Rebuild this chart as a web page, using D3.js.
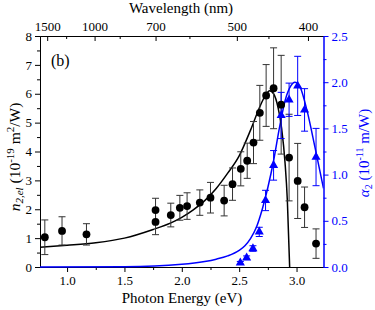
<!DOCTYPE html>
<html>
<head>
<meta charset="utf-8">
<script src="https://cdn.jsdelivr.net/npm/d3@7"></script>
<style>
  body { margin: 0; background: #fff; }
  svg { display: block; }
  svg text { font-family: "Liberation Serif", "Times New Roman", "DejaVu Serif", serif; }
</style>
</head>
<body>
<svg id="chart" width="375" height="310"></svg>
<script>
// n2,el measured points (black circles), 10^-19 m2/W
const energyN = [0.806, 0.956, 1.169, 1.771, 1.771, 1.904, 1.983, 2.046, 2.157, 2.25, 2.369, 2.442,
  2.514, 2.57, 2.625, 2.68, 2.735, 2.80, 2.866, 2.935, 3.01, 3.07, 3.17];
const n2 = [1.03, 1.25, 1.13, 1.56, 1.97, 1.80, 2.05, 2.11, 2.23, 2.40, 2.30, 2.87,
  3.40, 3.68, 4.31, 5.34, 5.94, 6.19, 5.62, 3.79, 2.98, 2.07, 0.81];
const n2Err = [0.60, 0.49, 0.37, 0.44, 0.41, 0.41, 0.43, 0.46, 0.44, 0.53, 0.53, 0.56,
  0.59, 0.61, 0.73, 0.95, 1.07, 1.40, 1.71, 1.50, 1.30, 0.70, 0.51];

// alpha2 measured points (blue triangles), 10^-11 m/W
const energyA = [2.51, 2.565, 2.62, 2.675, 2.73, 2.80, 2.866, 2.935, 3.01, 3.07, 3.17];
const alpha2 = [0.045, 0.10, 0.20, 0.38, 0.72, 1.10, 1.64, 1.81, 1.96, 1.70, 1.19];
const alpha2Err = [0.015, 0.02, 0.03, 0.05, 0.11, 0.16, 0.25, 0.18, 0.32, 0.23, 0.31];

// model curves
const fitNE = [0.764, 1.0, 1.25, 1.5, 1.75, 1.9, 2.0, 2.1, 2.2, 2.3, 2.4, 2.5, 2.6, 2.68, 2.73,
  2.765, 2.8, 2.84, 2.87, 2.9, 2.92, 2.94];
const fitN = [0.68, 0.75, 0.84, 1.0, 1.3, 1.52, 1.72, 1.98, 2.3, 2.72, 3.25, 3.85, 4.75, 5.55, 5.95,
  6.1, 6.0, 5.5, 4.8, 3.6, 2.3, 0];
const fitAE = [0.764, 1.5, 2.0, 2.2, 2.3, 2.4, 2.5, 2.55, 2.6, 2.65, 2.7, 2.75, 2.8, 2.85, 2.9,
  2.95, 2.985, 3.03, 3.09, 3.16, 3.235];
const fitA = [0.0, 0.004, 0.03, 0.06, 0.085, 0.12, 0.18, 0.23, 0.31, 0.43, 0.62, 0.86, 1.15, 1.5, 1.8,
  1.96, 2.0, 1.95, 1.7, 1.3, 0.85];

// tick values
const energyTicks = [1.0, 1.5, 2.0, 2.5, 3.0];
const energyMinor = [1.25, 1.75, 2.25, 2.75];
const wavelengthTicks = [1500, 1000, 700, 500, 400];
const wavelengthMinor = [1250, 850, 600, 450];
const nTicks = [0, 1, 2, 3, 4, 5, 6, 7, 8];
const nMinor = [0.5, 1.5, 2.5, 3.5, 4.5, 5.5, 6.5, 7.5];
const aTicks = [0, 0.5, 1.0, 1.5, 2.0, 2.5];
const aMinor = [0.25, 0.75, 1.25, 1.75, 2.25];

const BLUE = '#0000ff';
const SERIF = '"Liberation Serif", "Times New Roman", "DejaVu Serif", serif';
const plotL = 40, plotR = 323.5, plotT = 36, plotB = 267;

const svg = d3.select('#chart');
svg.append('rect').attr('width', 375).attr('height', 310).attr('fill', '#fff');

const x = d3.scaleLinear().domain([0.764, 3.235]).range([plotL, plotR]);
const yL = d3.scaleLinear().domain([0, 8]).range([plotB, plotT]);
const yR = d3.scaleLinear().domain([0, 2.5]).range([plotB, plotT]);

svg.append('clipPath').attr('id', 'plot-clip')
  .append('rect').attr('x', plotL).attr('y', plotT - 2)
  .attr('width', plotR - plotL).attr('height', plotB - plotT + 4);

function styleAxis(g, color) {
  g.attr('font-family', SERIF).attr('font-size', 13);
  g.selectAll('line, path').attr('stroke', color).attr('stroke-width', 1);
  g.selectAll('text').attr('fill', color);
}

// bottom axis
svg.append('g').attr('transform', `translate(0,${plotB})`)
  .call(d3.axisBottom(x).tickValues(energyTicks).tickFormat(d3.format('.1f'))
    .tickSize(5).tickSizeOuter(0).tickPadding(4))
  .call(g => styleAxis(g, '#000'));
svg.append('g').attr('transform', `translate(0,${plotB})`)
  .call(d3.axisBottom(x).tickValues(energyMinor).tickFormat('').tickSize(3).tickSizeOuter(0))
  .call(g => styleAxis(g, '#000'));

// top axis (wavelength, nm)
const toEV = nm => 1239.84 / nm;
svg.append('g').attr('transform', `translate(0,${plotT})`)
  .call(d3.axisTop(x).tickValues(wavelengthTicks.map(toEV))
    .tickFormat((d, i) => wavelengthTicks[i]).tickSize(-5).tickSizeOuter(0).tickPadding(5))
  .call(g => styleAxis(g, '#000'));
svg.append('g').attr('transform', `translate(0,${plotT})`)
  .call(d3.axisTop(x).tickValues(wavelengthMinor.map(toEV)).tickFormat('')
    .tickSize(-3).tickSizeOuter(0))
  .call(g => styleAxis(g, '#000'));

// left axis
svg.append('g').attr('transform', `translate(${plotL},0)`)
  .call(d3.axisLeft(yL).tickValues(nTicks).tickFormat(d3.format('d'))
    .tickSize(5).tickSizeOuter(0).tickPadding(3))
  .call(g => styleAxis(g, '#000'));
svg.append('g').attr('transform', `translate(${plotL},0)`)
  .call(d3.axisLeft(yL).tickValues(nMinor).tickFormat('').tickSize(3).tickSizeOuter(0))
  .call(g => styleAxis(g, '#000'));

// right axis
svg.append('g').attr('transform', `translate(${plotR},0)`)
  .call(d3.axisRight(yR).tickValues(aTicks).tickFormat(d3.format('.1f'))
    .tickSize(5).tickSizeOuter(0).tickPadding(3))
  .call(g => styleAxis(g, BLUE));
svg.append('g').attr('transform', `translate(${plotR},0)`)
  .call(d3.axisRight(yR).tickValues(aMinor).tickFormat('').tickSize(3).tickSizeOuter(0))
  .call(g => styleAxis(g, BLUE));

// curves
const plot = svg.append('g').attr('clip-path', 'url(#plot-clip)');
const lineN = d3.line().x(d => x(d[0])).y(d => yL(d[1])).curve(d3.curveMonotoneX);
const lineA = d3.line().x(d => x(d[0])).y(d => yR(d[1])).curve(d3.curveMonotoneX);

plot.append('path').datum(d3.zip(fitAE, fitA)).attr('d', lineA)
  .attr('fill', 'none').attr('stroke', BLUE).attr('stroke-width', 1.5);
plot.append('path').datum(d3.zip(fitNE, fitN)).attr('d', lineN)
  .attr('fill', 'none').attr('stroke', '#000').attr('stroke-width', 1.5);

// error bars
function errorBars(es, vs, errs, y, color) {
  const g = svg.append('g').attr('stroke', color).attr('stroke-width', 1).attr('fill', 'none');
  const cap = 3.5;
  es.forEach((e, i) => {
    const cx = x(e), y1 = y(vs[i] + errs[i]), y2 = y(vs[i] - errs[i]);
    g.append('line').attr('x1', cx).attr('x2', cx).attr('y1', y1).attr('y2', y2);
    g.append('line').attr('x1', cx - cap).attr('x2', cx + cap).attr('y1', y1).attr('y2', y1);
    g.append('line').attr('x1', cx - cap).attr('x2', cx + cap).attr('y1', y2).attr('y2', y2);
  });
}
errorBars(energyN, n2, n2Err, yL, '#333');
errorBars(energyA, alpha2, alpha2Err, yR, BLUE);

// markers
svg.append('g').selectAll('circle').data(d3.zip(energyN, n2)).join('circle')
  .attr('cx', d => x(d[0])).attr('cy', d => yL(d[1])).attr('r', 3.9).attr('fill', '#000');

const tri = d3.symbol().type(d3.symbolTriangle).size(36);
svg.append('g').selectAll('path').data(d3.zip(energyA, alpha2)).join('path')
  .attr('d', tri).attr('transform', d => `translate(${x(d[0])},${yR(d[1])})`).attr('fill', BLUE);

// titles
svg.append('text').attr('x', 181).attr('y', 13).attr('text-anchor', 'middle')
  .attr('font-family', SERIF).attr('font-size', 15).text('Wavelength (nm)');
svg.append('text').attr('x', 182).attr('y', 303).attr('text-anchor', 'middle')
  .attr('font-family', SERIF).attr('font-size', 15).text('Photon Energy (eV)');
svg.append('text').attr('x', 51).attr('y', 66).attr('font-family', SERIF)
  .attr('font-size', 16).text('(b)');

const lt = svg.append('text').attr('transform', 'translate(20,157) rotate(-90)')
  .attr('text-anchor', 'middle').attr('font-family', SERIF).attr('font-size', 15.5);
lt.append('tspan').attr('font-style', 'italic').text('n');
lt.append('tspan').attr('font-style', 'italic').attr('font-size', 11).attr('dy', 3).text('2,el');
lt.append('tspan').attr('dy', -3).text(' (10');
lt.append('tspan').attr('font-size', 11).attr('dy', -6).text('-19');
lt.append('tspan').attr('dy', 6).text(' m');
lt.append('tspan').attr('font-size', 11).attr('dy', -6).text('2');
lt.append('tspan').attr('dy', 6).text('/W)');

const rt = svg.append('text').attr('transform', 'translate(369,153) rotate(-90)')
  .attr('text-anchor', 'middle').attr('font-family', SERIF).attr('font-size', 15)
  .attr('fill', BLUE);
rt.append('tspan').attr('font-style', 'italic').text('α');
rt.append('tspan').attr('font-size', 10).attr('dy', 3).text('2');
rt.append('tspan').attr('dy', -3).text(' (10');
rt.append('tspan').attr('font-size', 10).attr('dy', -6).text('-11');
rt.append('tspan').attr('dy', 6).text(' m/W)');
</script>
</body>
</html>
